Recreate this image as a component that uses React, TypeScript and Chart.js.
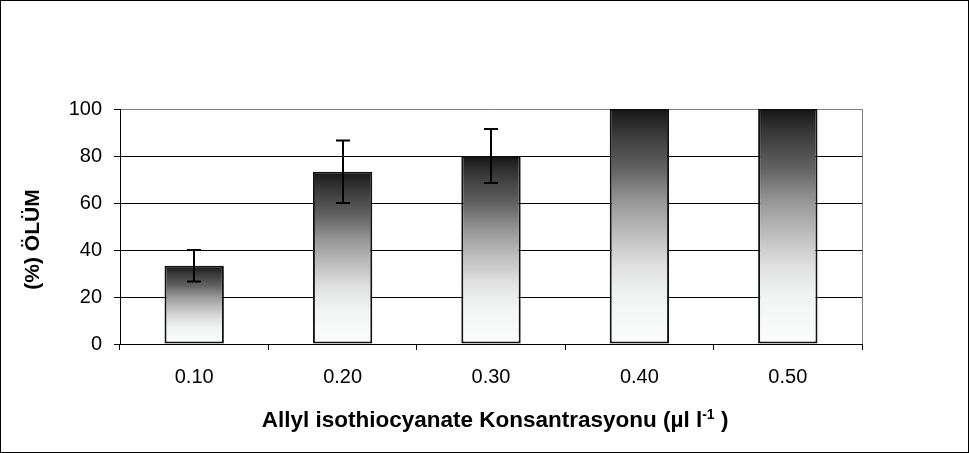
import React, { useEffect, useRef } from "react";
import { Chart, registerables } from "chart.js";

Chart.register(...registerables);

const categories = ["0.10", "0.20", "0.30", "0.40", "0.50"];
const mortality = [33.3, 73.3, 80, 100, 100];
const errors = [6.7, 13.3, 11.5, 0, 0];
const yMin = 0;
const yMax = 100;
const yStep = 20;
const xTitleMain = "Allyl isothiocyanate Konsantrasyonu (µl l";
const xTitleSup = "-1";
const xTitleEnd = " )";
const yTitle = "(%) ÖLÜM";

const FONT = "'Liberation Sans', Arial, sans-serif";

export default function App() {
  const ref = useRef<HTMLCanvasElement | null>(null);

  useEffect(() => {
    const canvas = ref.current;
    if (!canvas) return;

    const decor = {
      id: "decor",
      afterDatasetsDraw(chart: any) {
        const ctx = chart.ctx;
        const meta = chart.getDatasetMeta(0);
        const y = chart.scales.y;
        ctx.save();
        ctx.strokeStyle = "#000";
        ctx.lineWidth = 2;
        meta.data.forEach((bar: any, i: number) => {
          const e = errors[i];
          if (!e) return;
          const v = mortality[i];
          const x = Math.round(bar.x);
          const yt = y.getPixelForValue(v + e);
          const yb = y.getPixelForValue(v - e);
          ctx.beginPath();
          ctx.moveTo(x, yt);
          ctx.lineTo(x, yb);
          ctx.moveTo(x - 7, yt);
          ctx.lineTo(x + 7, yt);
          ctx.moveTo(x - 7, yb);
          ctx.lineTo(x + 7, yb);
          ctx.stroke();
        });
        ctx.restore();
      },
      afterDraw(chart: any) {
        const ctx = chart.ctx;
        const a = chart.chartArea;
        ctx.save();
        ctx.strokeStyle = "#808080";
        ctx.lineWidth = 1;
        ctx.beginPath();
        ctx.moveTo(Math.round(a.right) + 0.5, a.top);
        ctx.lineTo(Math.round(a.right) + 0.5, a.bottom);
        ctx.stroke();

        ctx.strokeStyle = "#000";
        ctx.strokeRect(0.5, 0.5, chart.width - 1, chart.height - 1);

        ctx.fillStyle = "#000";
        ctx.font = `bold 21px ${FONT}`;
        ctx.textAlign = "center";
        ctx.textBaseline = "middle";
        ctx.translate(a.left - 87, (a.top + a.bottom) / 2 + 13);
        ctx.rotate(-Math.PI / 2);
        ctx.fillText(yTitle, 0, 0);
        ctx.setTransform(1, 0, 0, 1, 0, 0);

        const mainFont = `bold 22.5px ${FONT}`;
        const supFont = `bold 14px ${FONT}`;
        ctx.font = mainFont;
        const w1 = ctx.measureText(xTitleMain).width;
        const w3 = ctx.measureText(xTitleEnd).width;
        ctx.font = supFont;
        const w2 = ctx.measureText(xTitleSup).width;
        const total = w1 + w2 + w3;
        const cx = (a.left + a.right) / 2 + 4;
        const base = a.bottom + 83;
        let x = cx - total / 2;
        ctx.textAlign = "left";
        ctx.textBaseline = "alphabetic";
        ctx.font = mainFont;
        ctx.fillText(xTitleMain, x, base);
        x += w1;
        ctx.font = supFont;
        ctx.fillText(xTitleSup, x, base - 8);
        x += w2;
        ctx.font = mainFont;
        ctx.fillText(xTitleEnd, x, base);
        ctx.restore();
      },
    };

    const chart = new Chart(canvas, {
      type: "bar",
      data: {
        labels: categories,
        datasets: [
          {
            data: mortality,
            backgroundColor: (c: any) => {
              const ch = c.chart;
              const ys = ch.scales && ch.scales.y;
              if (!ys || c.type !== "data") return "#666";
              const v = mortality[c.dataIndex];
              const top = ys.getPixelForValue(v);
              const bottom = ys.getPixelForValue(0);
              if (!isFinite(top) || !isFinite(bottom) || top === bottom) return "#666";
              const g = ch.ctx.createLinearGradient(0, top, 0, bottom);
              g.addColorStop(0, "#161616");
              g.addColorStop(0.1, "#383838");
              g.addColorStop(0.25, "#616161");
              g.addColorStop(0.39, "#959595");
              g.addColorStop(0.53, "#bdbdbd");
              g.addColorStop(0.67, "#e0e0e0");
              g.addColorStop(0.81, "#f3f5f5");
              g.addColorStop(1, "#fcfcfc");
              return g;
            },
            borderColor: "#111",
            borderWidth: 2,
            borderSkipped: false,
            barPercentage: 0.4,
            categoryPercentage: 1.0,
          },
        ],
      },
      options: {
        responsive: false,
        animation: false,
        devicePixelRatio: 1,
        layout: { padding: { left: 0, top: 109, right: 107, bottom: 0 } },
        plugins: {
          legend: { display: false },
          tooltip: { enabled: false },
          title: { display: false },
        },
        scales: {
          x: {
            afterFit: (s: any) => {
              s.height = 109;
            },
            grid: {
              offset: true,
              drawOnChartArea: false,
              drawTicks: true,
              tickLength: 6,
              color: "#000",
            },
            border: { display: true, color: "#000", width: 1 },
            ticks: {
              color: "#000",
              font: { family: FONT, size: 20 },
              padding: 15,
              maxRotation: 0,
            },
          },
          y: {
            min: yMin,
            max: yMax,
            afterFit: (s: any) => {
              s.width = 120;
            },
            grid: {
              color: (c: any) => (c.tick && c.tick.value === yMax ? "#808080" : "#000"),
              tickColor: "#000",
              tickLength: 6,
              lineWidth: 1,
            },
            border: { display: true, color: "#000", width: 1 },
            ticks: {
              stepSize: yStep,
              color: "#000",
              font: { family: FONT, size: 20 },
              padding: 12,
            },
          },
        },
      },
      plugins: [decor],
    });

    return () => chart.destroy();
  }, []);

  return (
    <div style={{ position: "absolute", left: 0, top: 0, width: 969, height: 453, background: "#fff" }}>
      <canvas ref={ref} width={969} height={453} style={{ display: "block", width: 969, height: 453 }} />
    </div>
  );
}
